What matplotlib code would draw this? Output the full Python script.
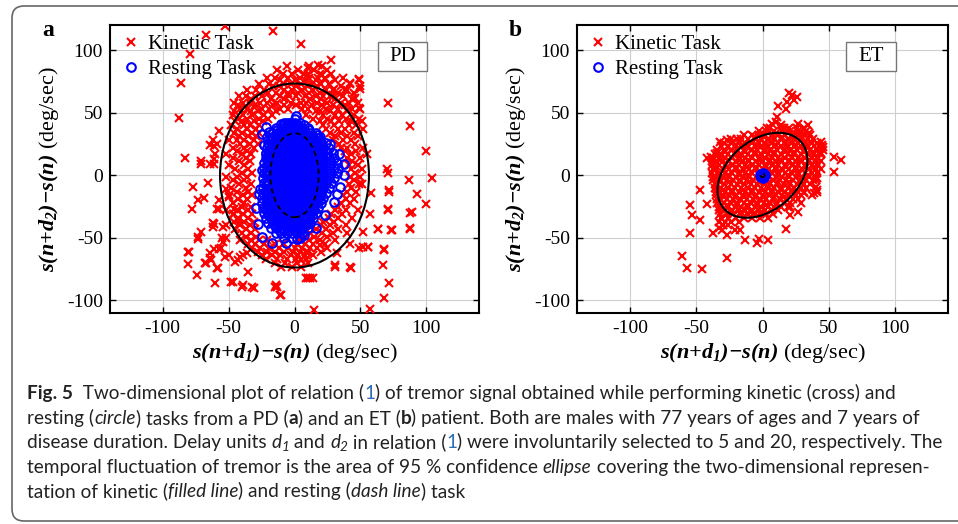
import matplotlib
matplotlib.use("Agg")
import matplotlib.pyplot as plt
from matplotlib.patches import Ellipse, Rectangle, FancyBboxPatch
from matplotlib.font_manager import FontProperties
import numpy as np

plt.rcParams["font.family"] = "Liberation Serif"
plt.rcParams["mathtext.fontset"] = "custom"
plt.rcParams["mathtext.rm"] = "Liberation Serif"
plt.rcParams["mathtext.it"] = "Liberation Serif:italic"
plt.rcParams["mathtext.bf"] = "Liberation Serif:bold"
plt.rcParams["mathtext.bfit"] = "Liberation Serif:italic:bold"
plt.rcParams["axes.unicode_minus"] = False

# ---- data (deg/sec) ----
ticks = [-100, -50, 0, 50, 100]
x_label = r"$\mathbfit{s(n{+}d_1){-}s(n)}$ (deg/sec)"
y_label = r"$\mathbfit{s(n{+}d_2){-}s(n)}$ (deg/sec)"

# PD, kinetic task: dense cloud as rows {y: [x, ...]}
pd_kin_rows = {
    87: [-6, 11, 21],
    84: [-13, 3, 15, 25],
    81: [-9, -2, 7, 19, 28],
    78: [-21, -15, -5, 4, 11, 23, 37],
    76: [-11, 0, 8, 16, 31, 49],
    73: [-27, -19, -8, -3, 5, 13, 20, 26, 42],
    71: [-16, -12, 1, 10, 17, 35, 50],
    68: [-36, -29, -23, -8, -2, 6, 14, 24, 29, 40],
    66: [-20, -14, -5, 3, 11, 19, 33, 45],
    63: [-42, -37, -30, -25, -11, -4, 1, 8, 16, 22, 27, 37],
    61: [-33, -18, -8, 12, 20, 31, 44],
    58: [-46, -39, -34, -26, -21, -13, -3, 5, 9, 17, 25, 35, 41, 48],
    56: [-43, -30, -16, -8, 1, 13, 21, 29, 38],
    53: [-41, -36, -25, -19, -11, -5, 6, 10, 24, 33, 44, 50],
    51: [-46, -33, -28, -14, 16, 19, 27, 40],
    48: [-47, -39, -32, -23, -17, 9, 22, 31, 36, 45],
    45: [-43, -36, -27, -20, 14, 25, 39, 49],
    43: [-45, -40, -31, -24, 19, 28, 34, 43, 51],
    40: [-48, -38, -34, -27, 22, 30, 41, 47],
    37: [-44, -36, -29, 24, 33, 38, 52],
    34: [-46, -40, -32, -27, 27, 35, 45],
    31: [-42, -35, -29, 31, 40, 48],
    28: [-50, -44, -38, -31, 29, 37, 43],
    25: [-41, -34, -28, 34, 46],
    22: [-47, -38, -31, 35, 40, 52],
    19: [-44, -36, 38, 47],
    17: [-52, -40, -33, 43, 55],
    14: [-47, -37, 40, 50],
    11: [-42, -34, 44],
    8: [-50, -38, 41, 48],
    5: [-45, -35, 43, 51],
    2: [-40, -32, 46],
    -1: [-52, -44, -36, 42, 50],
    -4: [-47, -38, 45],
    -7: [-42, -33, 41, 49],
    -10: [-48, -37, 43],
    -13: [-44, -35, 40, 47],
    -16: [-50, -39, -32, 37],
    -19: [-43, -36, 39, 45],
    -22: [-47, -38, 35, 42],
    -25: [-40, -33, 33],
    -28: [-52, -44, -35, 31, 39, 48],
    -31: [-47, -39, -32, 28, 36],
    -34: [-43, -35, 26, 33, 44],
    -37: [-46, -38, -31, 22, 30],
    -40: [-41, -34, 20, 27, 39],
    -43: [-45, -37, -30, 16, 24, 33],
    -46: [-40, -33, 12, 21, 29, 40],
    -49: [-37, -29, 8, 15, 25],
    -52: [-41, -33, -27, -21, 4, 11, 19, 31],
    -55: [-35, -30, -23, -15, -9, 2, 8, 14, 23],
    -58: [-32, -26, -19, -12, -5, 0, 6, 12, 17, 25],
    -61: [-28, -21, -15, -8, -1, 4, 10, 20],
    -64: [-25, -17, -11, -3, 3, 8, 14],
    -67: [-22, -13, -6, 1, 9],
    -70: [-15, -7, 2, 10],
    -73: [-10, -2, 5],
}
# PD, kinetic task: scattered points (x, y)
pd_kin_pts = [
    (-53, 119), (-67, 112), (-16, 115), (5, 105), (-79, 97), (-86, 74), (-88, 46), (-83, 14),
    (28, 92), (71, 58), (88, 39), (100, 19), (104, -2), (87, -4), (93, -15), (100, -23),
    (89, -29), (88, -42), (71, 2), (70, 5), (72, -13), (71, -27), (74, -44), (63, -43),
    (56, -57), (52, -57), (68, -60), (67, -72), (72, -86), (68, -98), (57, -107), (15, -108),
    (42, -73), (31, -72), (12, -82), (9, -82), (-10, -96), (-13, -89), (-15, -89), (-32, -89),
    (-39, -88), (-48, -85), (-60, -86), (-74, -80), (-81, -71), (-81, -61), (-68, -70),
    (-63, -68), (-58, -74), (-64, -62), (-61, -59), (-53, -65), (-45, -69), (-35, -77),
    (-41, -65), (-71, -45), (-73, -49), (-78, -27), (-73, -20), (-69, -18), (-77, -9),
    (-66, -6), (-71, 9), (-61, 9), (-61, 23), (-62, 28), (-57, 35), (-60, 17), (-57, -20),
    (-57, -27), (-62, -38), (-62, -41), (-54, -53), (-57, -59),
    (49, 77), (50, 69), (46, 62), (42, 74), (49, 54), (10, 86), (18, 88), (10, 81), (18, 78),
    (21, 80), (30, 69), (38, 68), (29, 64),
    (-64, 24), (-59, 25), (-71, 11), (-64, 9), (-61, 13),
    (-59, -27), (-52, -11), (-50, -17), (-46, -27), (-46, -31), (-43, -36), (-42, -39),
    (-61, -39), (-54, -41), (-55, -50), (-52, -50), (-52, -40), (-73, -51), (-80, -61),
    (-67, -70), (-64, -66), (-59, -74), (-56, -58), (-50, -64), (-43, -68), (-39, -64),
    (-36, -62), (-47, -85), (-40, -89), (-31, -90), (-14, -88), (-11, -96),
    (72, -12), (58, -14), (88, -30), (71, -28), (57, -31), (73, -44), (88, -43), (63, -43),
    (52, -45), (51, -7), (42, -55), (49, -58), (56, -57), (68, -59), (31, -73), (43, -74),
    (10, -82), (14, -82), (19, -56), (32, -62), (5, -68), (9, -61),
]

# PD, resting task: solid core as rows, plus the outer ring
pd_rest_rows = {
    42: [-8, -4, 0, 4],
    40: [-9, -5, -1, 3, 7],
    38: [-14, -10, -6, -2, 2, 6, 10],
    36: [-13, -9, -5, -1, 3, 7, 11],
    34: [-16, -12, -8, -4, 0, 4, 8, 12, 16],
    32: [-15, -11, -7, -3, 1, 5, 9, 13, 17],
    30: [-18, -14, -10, -6, -2, 2, 6, 10, 14, 18],
    28: [-17, -13, -9, -5, -1, 3, 7, 11, 15, 19],
    26: [-20, -16, -12, -8, -4, 0, 4, 8, 12, 16, 20, 24],
    24: [-19, -15, -11, -7, -3, 1, 5, 9, 13, 17, 21],
    22: [-21, -18, -14, -10, -6, -2, 2, 6, 10, 14, 18, 22, 26],
    20: [-19, -15, -11, -7, -3, 1, 5, 9, 13, 17, 21],
    18: [-22, -19, -15, -11, -7, -3, 1, 5, 9, 13, 17, 21, 25, 29],
    16: [-20, -16, -12, -8, -4, 0, 4, 8, 12, 16, 20],
    14: [-22, -18, -14, -10, -6, -2, 2, 6, 10, 14, 18, 22, 26, 30],
    12: [-21, -17, -13, -9, -5, -1, 3, 7, 11, 15, 19],
    10: [-23, -20, -16, -12, -8, -4, 0, 4, 8, 12, 16, 20, 24, 28, 32],
    8: [-21, -17, -13, -9, -5, -1, 3, 7, 11, 15, 19],
    6: [-23, -18, -14, -10, -6, -2, 2, 6, 10, 14, 18, 22, 26, 30, 33],
    4: [-21, -17, -13, -9, -5, -1, 3, 7, 11, 15, 19],
    2: [-23, -20, -16, -12, -8, -4, 0, 4, 8, 12, 16, 20, 24, 28, 32],
    0: [-21, -17, -13, -9, -5, -1, 3, 7, 11, 15, 19],
    -2: [-24, -18, -14, -10, -6, -2, 2, 6, 10, 14, 18, 22, 26, 30],
    -4: [-21, -17, -13, -9, -5, -1, 3, 7, 11, 15, 19],
    -6: [-23, -20, -16, -12, -8, -4, 0, 4, 8, 12, 16, 20, 24, 28],
    -8: [-21, -17, -13, -9, -5, -1, 3, 7, 11, 15, 19],
    -10: [-24, -18, -14, -10, -6, -2, 2, 6, 10, 14, 18, 22, 26],
    -12: [-21, -17, -13, -9, -5, -1, 3, 7, 11, 15, 19],
    -14: [-24, -20, -16, -12, -8, -4, 0, 4, 8, 12, 16, 20, 24],
    -16: [-21, -17, -13, -9, -5, -1, 3, 7, 11, 15, 19],
    -18: [-25, -22, -18, -14, -10, -6, -2, 2, 6, 10, 14, 18, 22],
    -20: [-21, -17, -13, -9, -5, -1, 3, 7, 11, 15, 19],
    -22: [-25, -20, -16, -12, -8, -4, 0, 4, 8, 12, 16, 20],
    -24: [-21, -17, -13, -9, -5, -1, 3, 7, 11, 15],
    -26: [-24, -22, -18, -14, -10, -6, -2, 2, 6, 10, 14, 18],
    -28: [-21, -17, -13, -9, -5, -1, 3, 7, 11, 15],
    -30: [-23, -20, -16, -12, -8, -4, 0, 4, 8, 12, 16],
    -32: [-19, -15, -11, -7, -3, 1, 5, 9, 13],
    -34: [-22, -18, -14, -10, -6, -2, 2, 6, 10, 14],
    -36: [-17, -13, -9, -5, -1, 3, 7, 11],
    -38: [-20, -16, -12, -8, -4, 0, 4, 8, 12],
    -40: [-15, -11, -7, -3, 1, 5, 9],
    -42: [-18, -14, -10, -6, -2, 2, 6, 10],
    -44: [-11, -7, -3, 1, 5],
    -46: [-14, -10, -6, -2, 2, 6],
    -50: [-8, -2, 4],
}
pd_rest_pts = [
    (-22, 38.5), (-19.5, 34.5), (-24.5, 33.2), (-20.7, 30.5), (-23.2, 24), (-22, 17.3),
    (0, 45), (1, 47), (-10.6, 40.6), (-5.5, 42), (19.7, 30.5), (27.3, 24.7), (33.6, 17.3),
    (37.4, 9.3), (37.4, 0), (34.3, -9.3), (32.3, -14.6), (29.8, -21), (23.5, -32), (16, -42),
    (7, -48), (-24.5, 4), (-25.8, -10.6), (-27, -14.6), (-29.5, -26.5), (-28, -39),
    (-24.5, -49), (-17, -54.4), (-6.8, -54), (2, -51),
]

# ET, kinetic task: dense cloud as rows, plus scattered points
et_kin_rows = {
    38: [6, 14, 20, 26, 31],
    35: [-3, 3, 9, 15, 21, 27, 33],
    32: [-14, -8, -3, 2, 7, 12, 17, 22, 27, 32, 36],
    30.5: [-6, 1, 8, 15, 23, 30],
    29: [-24, -19, -16, -11, -6, -1, 4, 9, 14, 19, 24, 29, 34, 38],
    26: [-29, -23, -18, -13, -8, -3, 2, 7, 12, 17, 22, 27, 32, 37, 41],
    24.5: [-20, -12, -4, 3, 10, 18, 25, 33],
    23: [-31, -26, -21, -16, -11, -6, -1, 4, 9, 14, 19, 24, 29, 34, 39, 43],
    20: [-34, -29, -24, -19, -14, -9, -4, 1, 6, 11, 16, 21, 26, 31, 36, 41],
    18.5: [-28, -20, -13, -6, 2, 9, 17, 24, 31, 38],
    17: [-36, -31, -26, -21, -16, -11, -6, -1, 4, 9, 14, 19, 24, 29, 34, 39, 44],
    14: [-37, -33, -28, -23, -18, -13, -8, -3, 2, 7, 12, 17, 22, 27, 32, 37, 42],
    12.5: [-32, -26, -18, -11, -2, 6, 13, 20, 28, 35],
    11: [-38, -35, -30, -25, -20, -15, -10, -5, 0, 5, 10, 15, 20, 25, 30, 35, 40, 44],
    8: [-38, -33, -28, -23, -18, -13, -8, -3, 2, 7, 12, 17, 22, 27, 32, 37, 42],
    6.5: [-34, -27, -20, -12, -5, 3, 10, 18, 25, 33],
    5: [-37, -35, -30, -25, -20, -15, -10, -5, 0, 5, 10, 15, 20, 25, 30, 35, 40, 44],
    2: [-38, -33, -28, -23, -18, -13, -8, -3, 2, 7, 12, 17, 22, 27, 32, 37, 41],
    0.5: [-33, -26, -18, -11, -3, 4, 12, 19, 27, 34],
    -1: [-37, -35, -30, -25, -20, -15, -10, -5, 0, 5, 10, 15, 20, 25, 30, 35, 40],
    -4: [-37, -32, -27, -22, -17, -12, -7, -2, 3, 8, 13, 18, 23, 28, 33, 38],
    -5.5: [-32, -25, -17, -10, -3, 5, 12, 20, 28],
    -7: [-36, -34, -29, -24, -19, -14, -9, -4, 1, 6, 11, 16, 21, 26, 31, 36],
    -10: [-36, -31, -26, -21, -16, -11, -6, -1, 4, 9, 14, 19, 24, 29, 33],
    -11.5: [-30, -23, -15, -8, 0, 7, 14, 22],
    -13: [-35, -33, -28, -23, -18, -13, -8, -3, 2, 7, 12, 17, 22, 27, 31],
    -16: [-35, -30, -25, -20, -15, -10, -5, 0, 5, 10, 15, 20, 25, 29],
    -17.5: [-29, -21, -14, -6, 1, 9, 16],
    -19: [-34, -32, -27, -22, -17, -12, -7, -2, 3, 8, 13, 18, 23, 27],
    -22: [-34, -29, -24, -19, -14, -9, -4, 1, 6, 11, 16, 21],
    -23.5: [-27, -19, -12, -4, 3, 10],
    -25: [-33, -31, -26, -21, -16, -11, -6, -1, 4, 9, 14, 19],
    -28: [-33, -28, -23, -18, -13, -8, -3, 2, 7, 12],
    -29.5: [-24, -16, -9, -1],
    -31: [-32, -27, -22, -17, -12, -7, -2, 3, 8],
    -34: [-31, -26, -20, -14, -8, -2, 4],
    -37: [-33, -28, -24, -18],
    -40: [-30, -26],
}
et_kin_pts = [
    (22.5, 63.7), (26, 62.4), (18.7, 58.4), (23.5, 59.8), (19.7, 65.3), (12, 55), (17.6, 52.6),
    (11, 46.5), (10, 42.5), (7.3, 41), (13.6, 39.8), (16, 37.5), (3.5, 37.5), (27, 41),
    (34, 40), (31, 37.5), (35, 34), (29, 33.5), (45, 24), (46, 20), (42.5, 17.5), (41, 13.5),
    (44, 26.5), (-42, 13.5), (-39, 14.6), (-34, 17.5), (-32, 26.5), (-27, 28), (-24, 25.5),
    (-17, 26.5), (-47, -12), (-54.5, -24), (-53, -32), (-42, -22.6), (-47, -36),
    (-54.5, -46), (-37, -46), (-33, -42.5), (-30.5, -44), (-27, -48), (-29.5, -40),
    (-20.5, -44), (-16.7, -44), (-13, -52), (-4, -54), (-3, -51), (4.5, -52), (17.5, -43),
    (21, -32), (27, -29), (-61, -64.5), (-57, -74), (-46, -75), (-27, -66), (41.4, -2.4),
    (40, -9.3), (41.4, -13), (37.6, -16), (31, -14), (29, -22.5), (21, -25), (54, 14.6),
    (59, 12), (54, 2.6), (41, 9), (46, 22.5), (44, 17.5), (39, 6.6), (40, -4), (41, -12),
    (39, -14),
]

# ET, resting task
et_rest_pts = [
    (0, 0), (-1, 0.8), (1, -0.8), (0.8, 1.2), (-0.8, -1.2), (-1.8, 0), (1.8, 0), (0, 1.8),
    (0, -1.8), (-1.3, 1.3), (1.3, 1.3), (-1.3, -1.3), (1.3, -1.3),
]

# 95 % confidence ellipses: (cx, cy, width, height, angle)
pd_kin_ellipse = (0, -0.2, 113, 147, 0)
pd_rest_ellipse = (0, 0, 36.6, 67, 0)
et_kin_ellipse = (0, 0, 79, 54.6, 45)
et_rest_ellipse = (0, 0, 3, 3, 0)


def to_xy(rows=None, pts=()):
    xs, ys = [], []
    for y, row in (rows or {}).items():
        xs.extend(row)
        ys.extend([y] * len(row))
    for x, y in pts:
        xs.append(x)
        ys.append(y)
    return np.array(xs, float), np.array(ys, float)


def draw_panel(ax, kin, rest, kin_ell, rest_ell, tag):
    ax.plot(kin[0], kin[1], ls="none", marker="x", color="#ff0000", ms=5.2, mew=1.5,
            label="Kinetic Task", zorder=3)
    ax.plot(rest[0], rest[1], ls="none", marker="o", mfc="none", mec="#0000ff", ms=6.2,
            mew=1.5, label="Resting Task", zorder=4)
    cx, cy, w, h, a = kin_ell
    ax.add_patch(Ellipse((cx, cy), w, h, angle=a, fill=False, ec="black", lw=1.5, zorder=5))
    cx, cy, w, h, a = rest_ell
    ax.add_patch(Ellipse((cx, cy), w, h, angle=a, fill=False, ec="black", lw=1.3,
                         ls=(0, (3, 2)), zorder=5))

    ax.set_xlim(-140, 140)
    ax.set_ylim(-110, 120)
    ax.set_xticks(ticks)
    ax.set_yticks(ticks)
    ax.grid(True, color="#cfcfcf", lw=0.8)
    ax.set_axisbelow(True)
    ax.tick_params(direction="in", top=True, right=True, length=4, width=1,
                   labelsize=14, pad=5)
    for sp in ax.spines.values():
        sp.set_linewidth(1.5)
    ax.set_xlabel(x_label, fontsize=16, labelpad=3)
    ax.set_ylabel(y_label, fontsize=16, labelpad=4)

    ax.legend(loc="upper left", bbox_to_anchor=(0.034, 0.966), frameon=False, fontsize=15,
              handlelength=0.8, handletextpad=0.4, labelspacing=0.25, borderpad=0,
              borderaxespad=0, numpoints=1)
    ax.add_patch(Rectangle((0.726, 0.840), 0.133, 0.101, transform=ax.transAxes,
                           fc="white", ec="#777777", lw=1.0, zorder=6))
    ax.text(0.7925, 0.890, tag, transform=ax.transAxes, ha="center", va="center",
            fontsize=15, zorder=7)


fig = plt.figure(figsize=(9.58, 5.24), dpi=100)
fig.patch.set_facecolor("white")

ax_a = fig.add_axes([110 / 958, 1 - 313 / 524, 369 / 958, 288 / 524])
ax_b = fig.add_axes([577 / 958, 1 - 313 / 524, 371 / 958, 288 / 524])

draw_panel(ax_a, to_xy(pd_kin_rows, pd_kin_pts), to_xy(pd_rest_rows, pd_rest_pts),
           pd_kin_ellipse, pd_rest_ellipse, "PD")
draw_panel(ax_b, to_xy(et_kin_rows, et_kin_pts), to_xy(None, et_rest_pts),
           et_kin_ellipse, et_rest_ellipse, "ET")

fig.text(48 / 958, 1 - 31 / 524, "a", fontsize=17, weight="bold", va="center", ha="center")
fig.text(515 / 958, 1 - 31 / 524, "b", fontsize=17, weight="bold", va="center", ha="center")

# outer rounded frame of the figure + caption
frame = FancyBboxPatch((0.12, 0.03), 9.75, 5.15, boxstyle="round,pad=0,rounding_size=0.12",
                       transform=fig.dpi_scale_trans, fill=False, ec="#666666", lw=1.2)
fig.add_artist(frame)

cap_font = "Lato"
N = {}
B = {"weight": "bold"}
I = {"style": "italic"}
L = {"color": "#2f6db5"}
S = {"style": "italic", "sub": True}
caption = [
    [("Fig. 5", B), ("  Two-dimensional plot of relation (", N), ("1", L),
     (") of tremor signal obtained while performing kinetic (cross) and", N)],
    [("resting (", N), ("circle", I), (") tasks from a PD (", N), ("a", B), (") and an ET (", N),
     ("b", B), (") patient. Both are males with 77 years of ages and 7 years of", N)],
    [("disease duration. Delay units ", N), ("d", I), ("1", S), (" and ", N), ("d", I), ("2", S),
     (" in relation (", N), ("1", L), (") were involuntarily selected to 5 and 20, respectively. The", N)],
    [("temporal fluctuation of tremor is the area of 95 % confidence ", N), ("ellipse", I),
     (" covering the two-dimensional represen-", N)],
    [("tation of kinetic (", N), ("filled line", I), (") and resting (", N), ("dash line", I),
     (") task", N)],
]
renderer = fig.canvas.get_renderer()


def run_width(text, st, size):
    props = FontProperties(family=cap_font, weight=st.get("weight", "normal"),
                           style=st.get("style", "normal"),
                           size=size * (0.72 if st.get("sub") else 1.0))
    w1 = renderer.get_text_width_height_descent("x" + text + "x", props, ismath=False)[0]
    w0 = renderer.get_text_width_height_descent("xx", props, ismath=False)[0]
    return w1 - w0, props


base = 10.0
line_w = sum(run_width(t, st, base)[0] for t, st in caption[2])
cap_size = base * 918 / line_w

x0_px = 27
baselines = [399, 424, 448, 473, 497]
for line, yb in zip(caption, baselines):
    x = x0_px
    for text, st in line:
        w, props = run_width(text, st, cap_size)
        dy = -0.25 * cap_size if st.get("sub") else 0
        fig.text(x / 958, 1 - (yb - dy) / 524, text, fontproperties=props,
                 color=st.get("color", "#222222"), va="baseline", ha="left")
        x += w

fig.savefig("out.png", dpi=100, facecolor="white")
